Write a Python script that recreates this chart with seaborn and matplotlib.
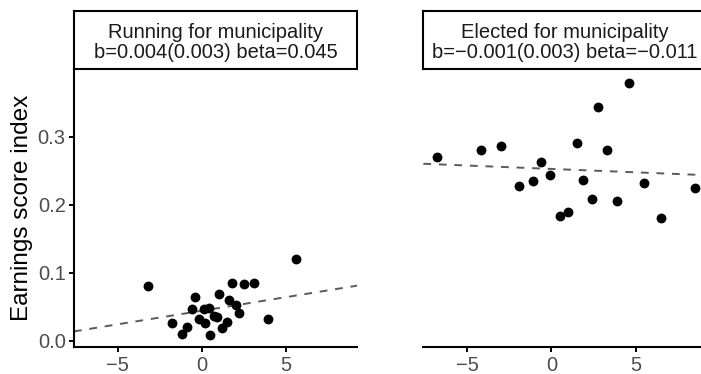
import numpy as np
import pandas as pd
import matplotlib
matplotlib.use("Agg")
import matplotlib.pyplot as plt
import seaborn as sns

# Panel titles and model statistics shown in the strip boxes
panel_titles = ["Running for municipality", "Elected for municipality"]
panel_stats = ["b=0.004(0.003) beta=0.045", "b=\u22120.001(0.003) beta=\u22120.011"]

# Fitted line per panel: slope b from the model statistics, intercept of the fit
fit_slope = [0.004, -0.001]
fit_intercept = [0.0440, 0.2525]

# Running for municipality: x value and earnings score index per group
run_x = [-3.2, 5.6, 1.8, 2.5, 3.1, -0.4, 1.0, 1.6, 2.0, 2.2, -0.6, 0.1, 0.4,
         -0.2, 0.2, 0.7, 0.9, 1.5, 1.2, -1.8, -0.9, -1.2, 0.5, 3.9]
run_y = [0.080, 0.120, 0.085, 0.083, 0.085, 0.064, 0.068, 0.060, 0.052, 0.041, 0.046, 0.046, 0.048,
         0.032, 0.026, 0.036, 0.035, 0.028, 0.018, 0.026, 0.020, 0.010, 0.008, 0.032]

# Elected for municipality
elect_x = [-6.8, -4.2, -3.0, -0.6, -1.9, -1.1, -0.1, 1.5, 2.8, 4.6, 3.3, 1.9,
           2.4, 3.9, 0.5, 1.0, 5.5, 6.5, 8.5]
elect_y = [0.270, 0.280, 0.286, 0.263, 0.228, 0.235, 0.243, 0.291, 0.343, 0.379, 0.281, 0.236,
           0.209, 0.206, 0.184, 0.189, 0.232, 0.181, 0.225]

x_ticks = [-5, 0, 5]
y_ticks = [0.0, 0.1, 0.2, 0.3]
y_tick_labels = ["0.0", "0.1", "0.2", "0.3"]
y_title = "Earnings score index"

frames = [
    pd.DataFrame({"x": run_x, "y": run_y}),
    pd.DataFrame({"x": elect_x, "y": elect_y}),
]

sns.set_theme(style="ticks")
plt.rcParams["font.family"] = ["Liberation Sans", "DejaVu Sans"]

W, H = 701, 374
fig = plt.figure(figsize=(W / 100, H / 100), dpi=100)


def box(left, top, right, bottom):
    return [left / W, 1 - bottom / H, (right - left) / W, (bottom - top) / H]


panel_lr = [(74, 357), (423.3, 706.3)]
top, bottom, strip_top = 69.3, 347.3, 11

xlim = (-7.6, 9.2)
ylim = (-0.0098, 0.399)

for i, (df, (l, r)) in enumerate(zip(frames, panel_lr)):
    ax = fig.add_axes(box(l, top, r, bottom))

    # dashed fit line across the full x range
    line_x = np.array(xlim)
    line = pd.DataFrame({"x": line_x, "y": fit_intercept[i] + fit_slope[i] * line_x})
    sns.lineplot(data=line, x="x", y="y", ax=ax, color="#5a5a5a", lw=1.4,
                 dashes=False, linestyle=(0, (4, 4)))
    sns.scatterplot(data=df, x="x", y="y", ax=ax, color="black", s=50, linewidth=0, zorder=3)

    ax.set_xlim(*xlim)
    ax.set_ylim(*ylim)
    ax.set_xticks(x_ticks)
    ax.set_xticklabels([str(t).replace("-", "\u2212") for t in x_ticks])
    ax.set_xlabel("")
    ax.set_ylabel("")
    for s in ("top", "right"):
        ax.spines[s].set_visible(False)
    for s in ("left", "bottom"):
        ax.spines[s].set_linewidth(1.5)
        ax.spines[s].set_color("black")
    ax.tick_params(axis="both", length=3.5, width=1.4, color="black",
                   labelsize=14.5, labelcolor="#4d4d4d", pad=2.5)
    if i == 0:
        ax.set_yticks(y_ticks)
        ax.set_yticklabels(y_tick_labels)
        ax.set_ylabel(y_title, fontsize=17.5, color="black")
        ax.yaxis.set_label_coords(-0.145, 0.5)
    else:
        ax.spines["left"].set_visible(False)
        ax.tick_params(axis="y", left=False, labelleft=False)

    # strip box with the panel title and statistics
    sx = fig.add_axes(box(l, strip_top, r, top))
    sx.set_xticks([])
    sx.set_yticks([])
    sx.set_facecolor("white")
    for s in sx.spines.values():
        s.set_linewidth(1.5)
        s.set_color("black")
    sx.text(0.5, 0.46, panel_titles[i] + "\n" + panel_stats[i], ha="center", va="center",
            fontsize=14.5, color="#1a1a1a", linespacing=1.05, transform=sx.transAxes)

fig.savefig("out.png", dpi=100, facecolor="white")
